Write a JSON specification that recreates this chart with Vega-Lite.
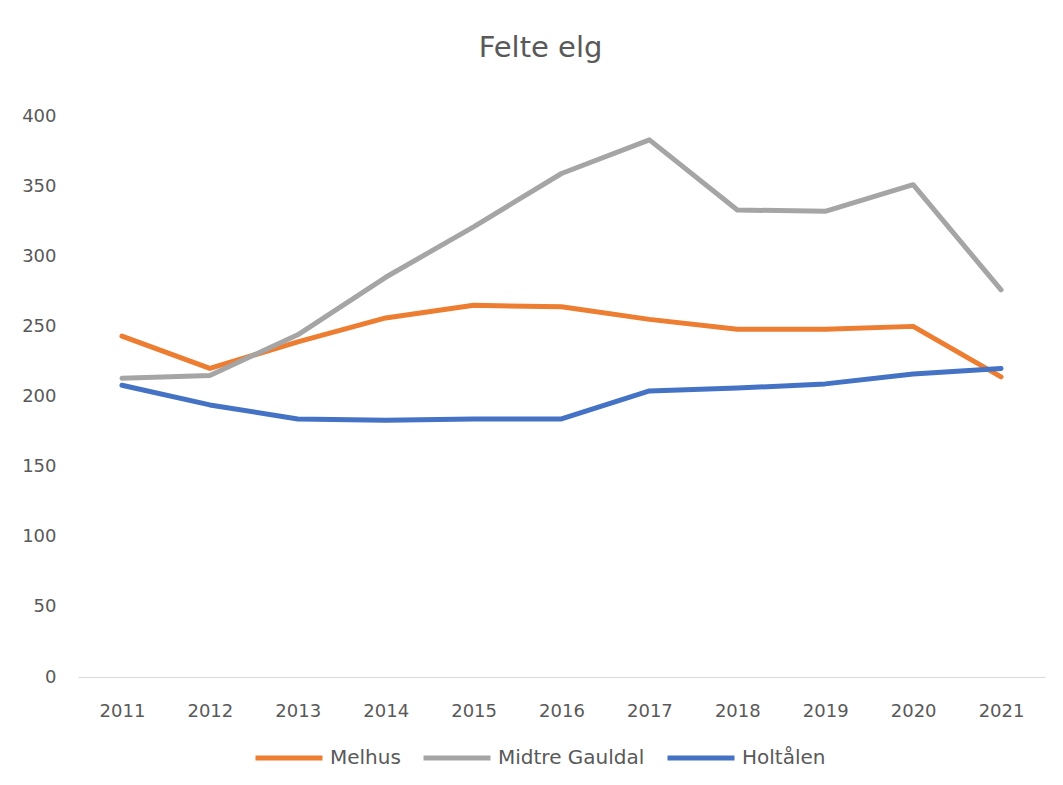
{
  "$schema": "https://vega.github.io/schema/vega-lite/v6.json",
  "width": 967,
  "height": 561,
  "autosize": {"type": "none"},
  "padding": {"left": 78, "top": 116, "right": 18, "bottom": 108},
  "background": "white",
  "title": {"text": "Felte elg", "fontSize": 29, "font": "DejaVu Sans", "fontWeight": "normal", "color": "#595959", "anchor": "middle", "offset": 44, "dx": -21},
  "data": {"values": [
    {"year": "2011", "series": "Melhus", "value": 243},
    {"year": "2012", "series": "Melhus", "value": 220},
    {"year": "2013", "series": "Melhus", "value": 239},
    {"year": "2014", "series": "Melhus", "value": 256},
    {"year": "2015", "series": "Melhus", "value": 265},
    {"year": "2016", "series": "Melhus", "value": 264},
    {"year": "2017", "series": "Melhus", "value": 255},
    {"year": "2018", "series": "Melhus", "value": 248},
    {"year": "2019", "series": "Melhus", "value": 248},
    {"year": "2020", "series": "Melhus", "value": 250},
    {"year": "2021", "series": "Melhus", "value": 214},
    {"year": "2011", "series": "Midtre Gauldal", "value": 213},
    {"year": "2012", "series": "Midtre Gauldal", "value": 215},
    {"year": "2013", "series": "Midtre Gauldal", "value": 244},
    {"year": "2014", "series": "Midtre Gauldal", "value": 285},
    {"year": "2015", "series": "Midtre Gauldal", "value": 321},
    {"year": "2016", "series": "Midtre Gauldal", "value": 359},
    {"year": "2017", "series": "Midtre Gauldal", "value": 383},
    {"year": "2018", "series": "Midtre Gauldal", "value": 333},
    {"year": "2019", "series": "Midtre Gauldal", "value": 332},
    {"year": "2020", "series": "Midtre Gauldal", "value": 351},
    {"year": "2021", "series": "Midtre Gauldal", "value": 276},
    {"year": "2011", "series": "Holtålen", "value": 208},
    {"year": "2012", "series": "Holtålen", "value": 194},
    {"year": "2013", "series": "Holtålen", "value": 184},
    {"year": "2014", "series": "Holtålen", "value": 183},
    {"year": "2015", "series": "Holtålen", "value": 184},
    {"year": "2016", "series": "Holtålen", "value": 184},
    {"year": "2017", "series": "Holtålen", "value": 204},
    {"year": "2018", "series": "Holtålen", "value": 206},
    {"year": "2019", "series": "Holtålen", "value": 209},
    {"year": "2020", "series": "Holtålen", "value": 216},
    {"year": "2021", "series": "Holtålen", "value": 220}
  ]},
  "mark": {"type": "line", "strokeWidth": 5, "strokeCap": "round", "strokeJoin": "round"},
  "encoding": {
    "x": {
      "field": "year", "type": "ordinal",
      "scale": {"type": "point", "padding": 0.5},
      "axis": {"title": null, "labelAngle": 0, "ticks": false, "domainColor": "#D9D9D9", "domainWidth": 1, "labelPadding": 25, "labelFontSize": 18, "labelFont": "DejaVu Sans", "labelColor": "#595959", "grid": false}
    },
    "y": {
      "field": "value", "type": "quantitative",
      "scale": {"domain": [0, 400]},
      "axis": {"title": null, "values": [0, 50, 100, 150, 200, 250, 300, 350, 400], "ticks": false, "domain": false, "grid": false, "labelPadding": 22, "labelFontSize": 18, "labelFont": "DejaVu Sans", "labelColor": "#595959"}
    },
    "color": {
      "field": "series", "type": "nominal",
      "scale": {"domain": ["Melhus", "Midtre Gauldal", "Holtålen"], "range": ["#ED7D31", "#A5A5A5", "#4472C4"]},
      "legend": {"title": null, "orient": "none", "legendX": 175, "legendY": 606, "direction": "horizontal", "symbolType": "stroke", "symbolSize": 4489, "symbolStrokeWidth": 5, "labelFontSize": 20, "labelFont": "DejaVu Sans", "labelColor": "#595959", "labelOffset": 5, "columnPadding": 12, "padding": 0}
    }
  },
  "config": {"view": {"stroke": null}}
}
